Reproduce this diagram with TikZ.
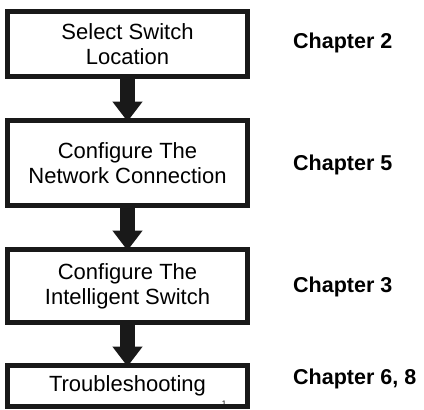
\documentclass[tikz,border=0pt]{standalone}
\usepackage{fontspec}
\setmainfont{Liberation Sans}
\usetikzlibrary{arrows.meta}
\begin{document}
\begin{tikzpicture}[x=1pt,y=-1pt,
  stepbox/.style={draw=black!90, line width=5pt, outer sep=0pt, inner sep=0pt,
    minimum width=240pt, align=center,
    font=\fontsize{22}{25}\selectfont},
  chap/.style={anchor=west, inner sep=0pt, font=\fontsize{21.5}{25}\selectfont\bfseries},
  flow/.style={draw=black!90, line width=15pt,
    -{Triangle[width=29pt,length=20pt]}, shorten >=-1pt}
]
\useasboundingbox (0,0) rectangle (424,410);
\node[inner sep=0pt, font=\fontsize{8}{8}\selectfont] (n1) at (224,404) {1};
\node[stepbox, minimum height=65pt] (b1) at (127.5,44) {Select Switch\\Location};
\node[stepbox, minimum height=85pt] (b2) at (127.5,163) {Configure The\\Network Connection};
\node[stepbox, minimum height=73pt] (b3) at (127.5,286) {Configure The\\Intelligent Switch};
\node[stepbox, minimum height=41pt] (b4) at (127.5,386) {Troubleshooting};
\draw[flow] (b1.south) -- (b2.north);
\draw[flow] (b2.south) -- (b3.north);
\draw[flow] (b3.south) -- (b4.north);
\node[chap] (c1) at (293,43) {Chapter 2};
\node[chap] (c2) at (293,165) {Chapter 5};
\node[chap] (c3) at (293,287) {Chapter 3};
\node[chap] (c4) at (293,379) {Chapter 6, 8};
\end{tikzpicture}
\end{document}
